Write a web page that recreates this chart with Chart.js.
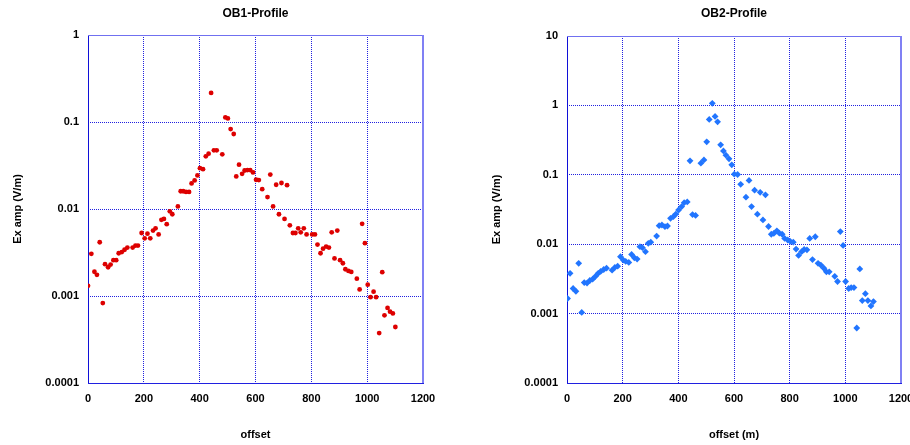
<!DOCTYPE html>
<html>
<head>
<meta charset="utf-8">
<script src="https://cdn.jsdelivr.net/npm/chart.js@4"></script>
<style>
  html, body { margin: 0; padding: 0; background: #fff; overflow: hidden; width: 910px; height: 445px; }
  .box { position: absolute; top: 0; height: 445px; }
  #leftBox { left: 0; width: 455px; }
  #rightBox { left: 455px; width: 480px; }
</style>
</head>
<body>
<div class="box" id="leftBox"><canvas id="ob1"></canvas></div>
<div class="box" id="rightBox"><canvas id="ob2"></canvas></div>
<script>
// OB1 profile (red dots)
const ob1Offset = [0, 12, 23, 32, 42, 53, 61, 72, 81, 91, 101, 110, 121, 131, 141, 160, 170, 179,
  192, 203, 213, 223, 233, 242, 253, 263, 272, 282, 293, 302, 322, 332, 341, 351, 362, 371, 382,
  392, 401, 412, 422, 432, 441, 451, 461, 481, 492, 501, 511, 522, 531, 541, 552, 561, 571, 581,
  591, 602, 612, 624, 643, 653, 663, 674, 684, 693, 704, 713, 723, 734, 743, 753, 762, 773, 783,
  803, 813, 822, 833, 842, 853, 863, 873, 883, 893, 903, 913, 922, 933, 943, 963, 973, 982, 992,
  1002, 1012, 1023, 1032, 1043, 1054, 1062, 1073, 1082, 1092, 1101];
const ob1Amp = [0.00131, 0.00305, 0.0019, 0.00175, 0.00415, 0.00083, 0.00232, 0.00214, 0.0023,
  0.00258, 0.00258, 0.0031, 0.0032, 0.0034, 0.0036, 0.0036, 0.0038, 0.0038, 0.0053, 0.0046,
  0.0052, 0.0046, 0.00565, 0.006, 0.0051, 0.0075, 0.0077, 0.0067, 0.0094, 0.0087, 0.0107, 0.016,
  0.016, 0.0157, 0.0157, 0.0197, 0.0213, 0.0243, 0.0295, 0.0287, 0.0403, 0.0432, 0.216, 0.0472,
  0.0472, 0.0425, 0.113, 0.11, 0.083, 0.0728, 0.0237, 0.0323, 0.0254, 0.0277, 0.028, 0.028,
  0.0263, 0.0217, 0.0215, 0.0169, 0.0137, 0.0249, 0.0107, 0.019, 0.0087, 0.0199, 0.0077, 0.0188,
  0.0065, 0.0053, 0.0053, 0.006, 0.0054, 0.006, 0.0051, 0.0051, 0.0051, 0.0039, 0.0031, 0.0035,
  0.0037, 0.0036, 0.0054, 0.0027, 0.00565, 0.00258, 0.00238, 0.00203, 0.00194, 0.00189, 0.00158,
  0.00119, 0.00675, 0.00405, 0.00135, 0.00097, 0.00112, 0.00097, 0.000375, 0.00188, 0.000599,
  0.00073, 0.00066, 0.00063, 0.00044];

// OB2 profile (blue diamonds)
const ob2Offset = [2, 11, 22, 32, 42, 53, 62, 72, 82, 92, 102, 112, 121, 132, 142, 162, 172, 182,
  192, 202, 211, 222, 232, 242, 252, 262, 271, 282, 292, 301, 322, 331, 341, 352, 361, 372, 382,
  391, 401, 412, 421, 432, 442, 451, 462, 481, 492, 502, 511, 522, 532, 541, 552, 562, 571, 582,
  592, 601, 613, 624, 643, 654, 663, 674, 684, 694, 704, 713, 724, 734, 743, 754, 763, 773, 782,
  793, 802, 813, 823, 832, 843, 852, 862, 872, 882, 892, 902, 912, 923, 932, 942, 962, 972, 982,
  992, 1001, 1012, 1021, 1031, 1041, 1052, 1061, 1072, 1081, 1092, 1101];
const ob2Amp = [0.00165, 0.0038, 0.0023, 0.0021, 0.0053, 0.00104, 0.0028, 0.00275, 0.003, 0.00313,
  0.00343, 0.0038, 0.00405, 0.00432, 0.00452, 0.00423, 0.00462, 0.00483, 0.0066, 0.0059, 0.00565,
  0.00546, 0.00713, 0.00638, 0.0061, 0.0092, 0.0089, 0.0078, 0.0103, 0.0107, 0.0131, 0.0185,
  0.0189, 0.0179, 0.0183, 0.0236, 0.0249, 0.0272, 0.0311, 0.0348, 0.0397, 0.0406, 0.159, 0.0267,
  0.026, 0.147, 0.164, 0.299, 0.628, 1.07, 0.693, 0.58, 0.27, 0.221, 0.192, 0.17, 0.139, 0.102,
  0.101, 0.073, 0.0476, 0.083, 0.0349, 0.06, 0.0271, 0.056, 0.0224, 0.0515, 0.018, 0.0139,
  0.0143, 0.0156, 0.0144, 0.0139, 0.0121, 0.0115, 0.011, 0.0107, 0.0085, 0.0069, 0.0078, 0.0084,
  0.0083, 0.0121, 0.006, 0.0128, 0.0053, 0.005, 0.0045, 0.004, 0.004, 0.00345, 0.0029, 0.0152,
  0.0096, 0.0029, 0.0023, 0.00237, 0.00237, 0.00062, 0.0044, 0.00154, 0.00194, 0.00154, 0.00129,
  0.00149];

const xTicks = [0, 200, 400, 600, 800, 1000, 1200];
const ob1YTicks = [1, 0.1, 0.01, 0.001, 0.0001];
const ob2YTicks = [10, 1, 0.1, 0.01, 0.001, 0.0001];

const FONT = 'Arial, "Liberation Sans", sans-serif';

// plot frame: solid left, light top/right
const framePlugin = {
  id: 'frame',
  beforeDatasetsDraw(chart) {
    const { ctx, chartArea: a } = chart;
    ctx.save();
    ctx.lineWidth = 1;
    ctx.strokeStyle = '#1010d8';
    ctx.beginPath(); ctx.moveTo(a.left + 0.5, a.top); ctx.lineTo(a.left + 0.5, a.bottom); ctx.stroke();
    ctx.strokeStyle = '#7070f0';
    ctx.beginPath(); ctx.moveTo(a.left, a.top + 0.5); ctx.lineTo(a.right, a.top + 0.5); ctx.stroke();
    ctx.lineWidth = 2;
    ctx.strokeStyle = '#8080f4';
    ctx.beginPath(); ctx.moveTo(a.right, a.top); ctx.lineTo(a.right, a.bottom); ctx.stroke();
    ctx.restore();
  }
};

function makeChart(id, xs, ys, yTicks, yMax, color, pointStyle, radius, title, xTitle, yTitlePad, axisWidth, padRight, titleBottom) {
  const pts = xs.map((x, i) => ({ x: x, y: ys[i] }));
  return new Chart(document.getElementById(id), {
    type: 'scatter',
    data: {
      datasets: [{
        data: pts,
        backgroundColor: color,
        borderColor: color,
        borderWidth: 0,
        pointStyle: pointStyle,
        pointRadius: radius,
        pointHoverRadius: radius
      }]
    },
    options: {
      responsive: true,
      maintainAspectRatio: false,
      animation: false,
      events: [],
      layout: { padding: { left: 0, right: padRight, top: 0, bottom: 0 } },
      plugins: {
        legend: { display: false },
        tooltip: { enabled: false },
        title: {
          display: true,
          text: title,
          fullSize: false,
          color: '#000',
          font: { family: FONT, size: 12, weight: 'bold' },
          padding: { top: 6, bottom: titleBottom }
        }
      },
      scales: {
        x: {
          type: 'linear',
          min: 0,
          max: 1200,
          afterBuildTicks: s => { s.ticks = xTicks.map(v => ({ value: v })); },
          afterFit: s => { s.height = 62; },
          border: { display: true, color: '#2020e0', dash: [1, 1] },
          grid: { color: '#2020e0', lineWidth: 1, drawTicks: false },
          ticks: {
            padding: 9, color: '#000', maxRotation: 0,
            font: { family: FONT, size: 11, weight: 'bold' },
            callback: v => String(v)
          },
          title: { display: true, text: xTitle, color: '#000', padding: { top: 0, bottom: 3 }, font: { family: FONT, size: 11, weight: 'bold' } }
        },
        y: {
          type: 'logarithmic',
          min: 0.0001,
          max: yMax,
          afterBuildTicks: s => { s.ticks = yTicks.map(v => ({ value: v })); },
          afterFit: s => { s.width = axisWidth; },
          border: { display: false, dash: [1, 1] },
          grid: { color: '#2020e0', lineWidth: 1, drawTicks: false },
          ticks: {
            padding: 9,
            color: '#000',
            font: { family: FONT, size: 11, weight: 'bold' },
            callback: v => String(v)
          },
          title: { display: true, text: 'Ex amp (V/m)', color: '#000', padding: { top: yTitlePad, bottom: 0 }, font: { family: FONT, size: 11, weight: 'bold' } }
        }
      }
    },
    plugins: [framePlugin]
  });
}

makeChart('ob1', ob1Offset, ob1Amp, ob1YTicks, 1, '#dd0000', 'circle', 2.4,
  'OB1-Profile', 'offset', 11, 88, 32, 14.6);
makeChart('ob2', ob2Offset, ob2Amp, ob2YTicks, 10, '#2175ff', 'rectRot', 3.4,
  'OB2-Profile', 'offset (m)', 35.5, 112, 34, 15.6);
</script>
</body>
</html>
